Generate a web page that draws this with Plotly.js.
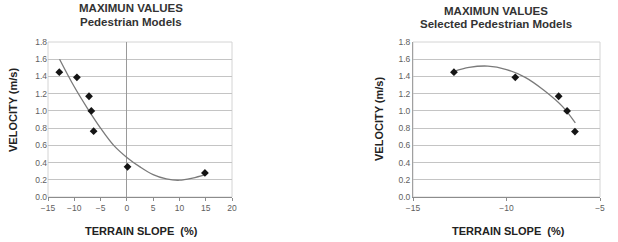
<!DOCTYPE html>
<html><head><meta charset="utf-8">
<script src="https://cdn.plot.ly/plotly-3.0.1.min.js"></script>
<style>html,body{margin:0;padding:0;background:#fff}#chart{width:618px;height:242px}</style>
</head><body><div id="chart"></div>
<script>
// Left chart: all pedestrian models
const slopeAll = [-12.85, -9.5, -7.2, -6.76, -6.32, 0.13, 14.85];
const velocityAll = [1.45, 1.39, 1.17, 1.00, 0.765, 0.35, 0.28];
// Trendline
const trendAllX = [-12.8, -10, -7.5, -5, -2.5, 0, 2.5, 5, 7.5, 10, 12.5, 14.9];
const trendAllY = [1.60, 1.28, 1.03, 0.80, 0.60, 0.46, 0.35, 0.26, 0.21, 0.195, 0.22, 0.26];
// Right chart: selected pedestrian models
const slopeSel = [-12.81, -9.53, -7.21, -6.76, -6.34];
const velocitySel = [1.45, 1.39, 1.17, 1.00, 0.76];
const trendSelX = [-12.81, -12, -11, -10, -9, -8, -7, -6.32];
const trendSelY = [1.46, 1.505, 1.52, 1.48, 1.39, 1.24, 1.05, 0.86];
// Ticks
const yTickVals = [0, 0.2, 0.4, 0.6, 0.8, 1.0, 1.2, 1.4, 1.6, 1.8];
const yTickText = ['0.0','0.2','0.4','0.6','0.8','1.0','1.2','1.4','1.6','1.8'];
const xTickAll = [-15, -10, -5, 0, 5, 10, 15, 20];
const xTickSel = [-15, -10, -5];

const W = 618, H = 242;
const px = v => v / W, py = v => 1 - v / H;
const FONT = 'Liberation Sans, Arial, sans-serif';
const tickFont = {family: FONT, size: 8.5, color: '#606060'};

const markerStyle = {symbol: 'diamond', size: 6, color: '#151515'};
const lineStyle = {color: '#7a7a7a', width: 1.3, shape: 'spline', smoothing: 1};

const traces = [
  {x: trendAllX, y: trendAllY, mode: 'lines', line: lineStyle, xaxis: 'x', yaxis: 'y', hoverinfo: 'skip'},
  {x: slopeAll, y: velocityAll, mode: 'markers', marker: markerStyle, xaxis: 'x', yaxis: 'y'},
  {x: trendSelX, y: trendSelY, mode: 'lines', line: lineStyle, xaxis: 'x2', yaxis: 'y2', hoverinfo: 'skip'},
  {x: slopeSel, y: velocitySel, mode: 'markers', marker: markerStyle, xaxis: 'x2', yaxis: 'y2'}
];

const yCommon = {
  range: [0, 1.8], tickvals: yTickVals, ticktext: yTickText, tickfont: tickFont,
  showgrid: true, gridcolor: '#c4c4c4', gridwidth: 1, zeroline: false,
  showline: true, linecolor: '#a0a0a0', linewidth: 1, ticks: '', ticklen: 0,
  domain: [py(197), py(42)], fixedrange: true
};
const xCommon = {
  tickfont: tickFont, showgrid: false, showline: true, linecolor: '#8c8c8c', linewidth: 1,
  ticks: 'outside', ticklen: 3, tickcolor: '#8c8c8c', fixedrange: true
};

const axTitleFont = {family: FONT, size: 11, color: '#222'};
const titleFont1 = {family: FONT, size: 11.5, color: '#333'};
const titleFont2 = {family: FONT, size: 11.5, color: '#333'};
const xTitle = '<b>TERRAIN SLOPE\u00a0\u00a0(%)</b>';

const layout = {
  width: W, height: H, margin: {l: 0, r: 0, t: 0, b: 0},
  paper_bgcolor: '#fff', plot_bgcolor: '#fff', showlegend: false,
  xaxis: Object.assign({}, xCommon, {range: [-15, 20], tickvals: xTickAll, domain: [px(48), px(232)],
    anchor: 'y', zeroline: true, zerolinecolor: '#9a9a9a', zerolinewidth: 1}),
  yaxis: Object.assign({}, yCommon, {anchor: 'x', showline: false}),
  xaxis2: Object.assign({}, xCommon, {range: [-15, -5], tickvals: xTickSel, domain: [px(413), px(600)],
    anchor: 'y2', zeroline: false}),
  yaxis2: Object.assign({}, yCommon, {anchor: 'x2'}),
  shapes: [
    {type: 'rect', xref: 'x domain', yref: 'y domain', x0: 0, x1: 1, y0: 0, y1: 1,
     line: {color: '#d4d4d4', width: 1}, layer: 'below'},
    {type: 'rect', xref: 'x2 domain', yref: 'y2 domain', x0: 0, x1: 1, y0: 0, y1: 1,
     line: {color: '#d4d4d4', width: 1}, layer: 'below'}
  ],
  annotations: [
    {text: '<b>MAXIMUN VALUES</b>', x: px(131), y: py(8), xref: 'paper', yref: 'paper', showarrow: false, font: titleFont1, xanchor: 'center', yanchor: 'middle'},
    {text: '<b>Pedestrian Models</b>', x: px(131), y: py(22), xref: 'paper', yref: 'paper', showarrow: false, font: titleFont2, xanchor: 'center', yanchor: 'middle'},
    {text: '<b>MAXIMUN VALUES</b>', x: px(496), y: py(11), xref: 'paper', yref: 'paper', showarrow: false, font: titleFont1, xanchor: 'center', yanchor: 'middle'},
    {text: '<b>Selected Pedestrian Models</b>', x: px(496), y: py(24), xref: 'paper', yref: 'paper', showarrow: false, font: titleFont2, xanchor: 'center', yanchor: 'middle'},
    {text: '<b>VELOCITY (m/s)</b>', x: px(13), y: py(110), xref: 'paper', yref: 'paper', showarrow: false, font: axTitleFont, textangle: -90, xanchor: 'center', yanchor: 'middle'},
    {text: '<b>VELOCITY (m/s)</b>', x: px(379), y: py(119), xref: 'paper', yref: 'paper', showarrow: false, font: axTitleFont, textangle: -90, xanchor: 'center', yanchor: 'middle'},
    {text: xTitle, x: px(141), y: py(230.5), xref: 'paper', yref: 'paper', showarrow: false, font: axTitleFont, xanchor: 'center', yanchor: 'middle'},
    {text: xTitle, x: px(508), y: py(231), xref: 'paper', yref: 'paper', showarrow: false, font: axTitleFont, xanchor: 'center', yanchor: 'middle'}
  ]
};

Plotly.newPlot('chart', traces, layout, {displayModeBar: false, staticPlot: true});
</script></body></html>
